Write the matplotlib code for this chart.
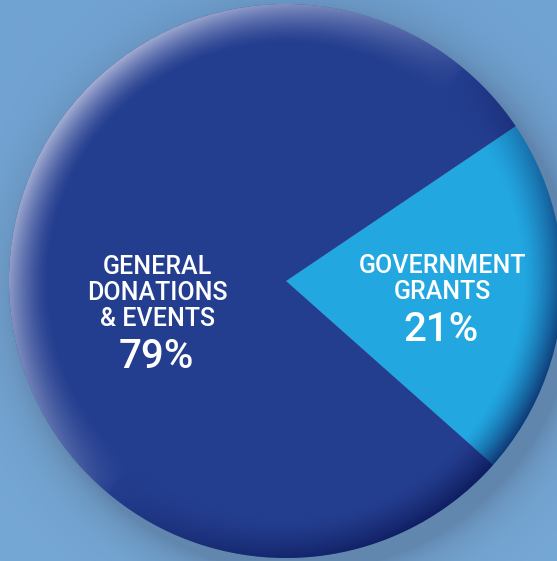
import numpy as np
import matplotlib
matplotlib.use("Agg")
from matplotlib import pyplot as plt
from matplotlib.patches import Circle

# funding shares
labels = ["GOVERNMENT\nGRANTS", "GENERAL\nDONATIONS\n& EVENTS"]
shares = [21, 79]
colors = ["#22a7e1", "#243e8f"]

W, H = 557, 561
cx, cy, R = 286, H - 281, 277

fig = plt.figure(figsize=(W / 100, H / 100), dpi=100)
ax = fig.add_axes([0, 0, 1, 1])

# background with soft drop shadow
xs = np.arange(W) + 0.5
ys = np.arange(H) + 0.5
X, Y = np.meshgrid(xs, ys)
base = np.array([113, 163, 211]) / 255.0
grad = (1 - Y / H)[..., None] * np.array([0.02, 0.02, 0.01])
bg = np.ones((H, W, 3)) * base + grad
d = np.hypot(X - (cx + 12), Y - (cy - 14)) - R
sh = np.where(d > 0, np.exp(-d / 22.0), 1.0) * 0.42
bg = bg * (1 - sh[..., None]) + np.array([70, 90, 120]) / 255.0 * sh[..., None]
ax.imshow(np.clip(bg, 0, 1), extent=(0, W, 0, H), origin="lower", zorder=0)

wedges, _ = ax.pie(shares, colors=colors, startangle=-41.6, counterclock=True,
                   center=(cx, cy), radius=R,
                   wedgeprops=dict(linewidth=0, antialiased=True))
for w in wedges:
    w.set_zorder(1)

# rim shading: light at top-left, dark at bottom-right
r = np.hypot(X - cx, Y - cy)
th = np.arctan2(Y - cy, X - cx)
t = np.clip((R - r) / 40.0, 0, 1)
edge = (1 - t) ** 1.4
hi = edge * np.clip(np.cos(th - np.radians(140)), 0, 1) ** 0.7 * 0.9
lo = edge * np.clip(np.cos(th - np.radians(-40)), 0, 1) ** 0.7 * 0.75
ov = np.zeros((H, W, 4))
hc = np.array([180, 188, 220]) / 255.0
lc = np.array([8, 18, 80]) / 255.0
a = hi + lo * (1 - hi)
rgb = (hc * hi[..., None] + lc * (lo * (1 - hi))[..., None]) / np.maximum(a, 1e-6)[..., None]
ov[..., :3] = rgb
ov[..., 3] = np.clip(a, 0, 1)
im = ax.imshow(ov, extent=(0, W, 0, H), origin="lower", zorder=2)
im.set_clip_path(Circle((cx, cy), R, transform=ax.transData))

font = "Roboto"
ax.text(157, H - 293, labels[1], ha="center", va="center", color="white",
        fontsize=18, family=font, weight="medium", linespacing=1.08, zorder=3)
ax.text(156, H - 357, f"{shares[1]}%", ha="center", va="center", color="white",
        fontsize=29, family=font, weight="medium", zorder=3)
ax.text(442, H - 279, labels[0], ha="center", va="center", color="white",
        fontsize=18, family=font, weight="medium", linespacing=1.08, zorder=3)
ax.text(441, H - 330, f"{shares[0]}%", ha="center", va="center", color="white",
        fontsize=29, family=font, weight="medium", zorder=3)

ax.set_xlim(0, W)
ax.set_ylim(0, H)
ax.set_aspect("auto")
ax.axis("off")

fig.savefig("out.png", dpi=100)
